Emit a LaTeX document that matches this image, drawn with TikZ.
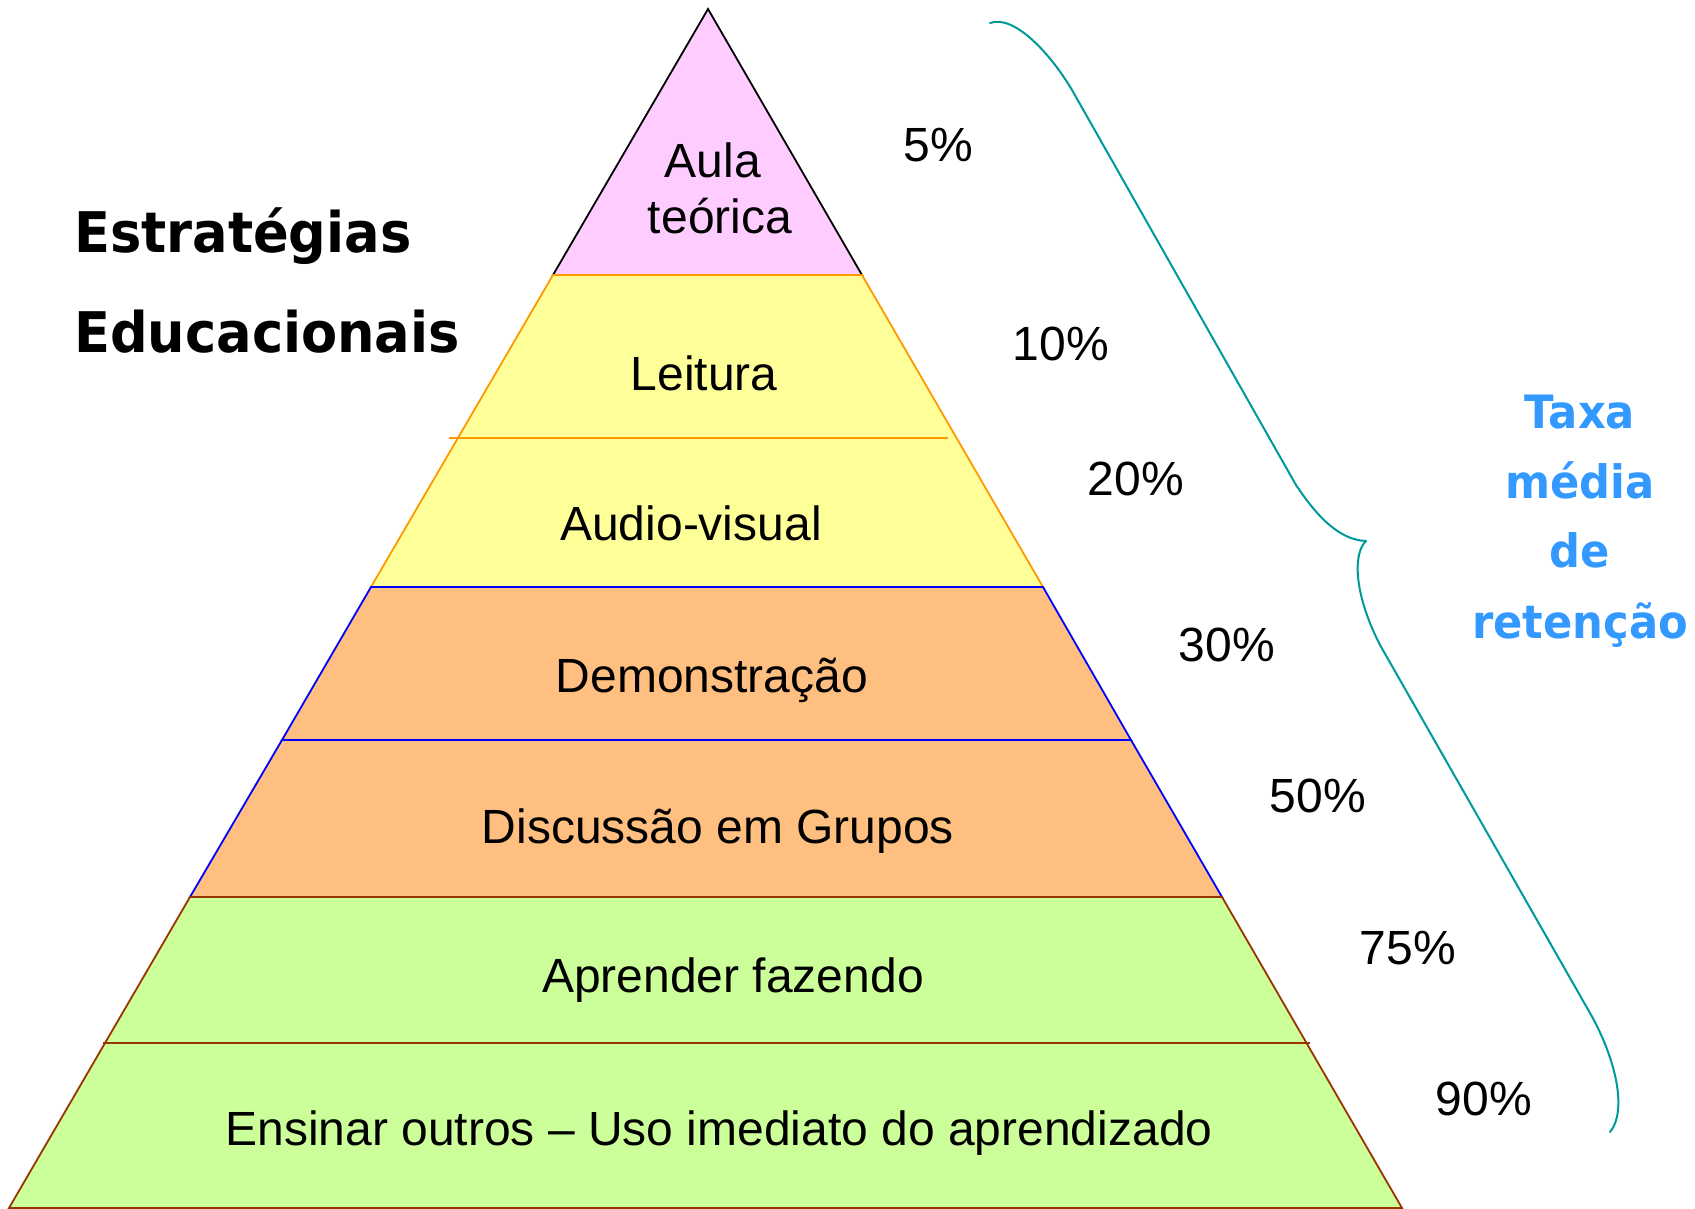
\documentclass[tikz,border=0pt]{standalone}
\usepackage{fontspec}
\setmainfont{Liberation Sans}
\newfontfamily\titlefont{DejaVu Sans}
\definecolor{pinkfill}{HTML}{FFCCFF}
\definecolor{yelfill}{HTML}{FFFF99}
\definecolor{orfill}{HTML}{FFBF80}
\definecolor{grnfill}{HTML}{CCFF99}
\definecolor{orline}{HTML}{FF9900}
\definecolor{brline}{HTML}{993300}
\definecolor{bluline}{HTML}{0000FF}
\definecolor{tealline}{HTML}{009999}
\definecolor{bluetext}{HTML}{3399FF}
\newcommand{\narrowtxt}[1]{\scalebox{0.94}[1]{#1}}
\begin{document}
\begin{tikzpicture}[x=1pt,y=-1pt,
  lbl/.style={font=\fontsize{48}{56}\selectfont, anchor=base, inner sep=0pt},
  pct/.style={font=\fontsize{48}{56}\selectfont, anchor=base, inner sep=0pt},
  ttl/.style={font=\titlefont\bfseries\fontsize{56}{62}\selectfont, anchor=base west, inner sep=0pt},
  blu/.style={font=\titlefont\bfseries\fontsize{46}{52}\selectfont, anchor=base, inner sep=0pt, text=bluetext},
  edge/.style={line width=1.8pt, line join=miter}]
\useasboundingbox (0,0) rectangle (1695,1208);
% pyramid corners
\coordinate (apex) at (708,9);
\coordinate (l1) at (553,275);  \coordinate (r1) at (862,275);
\coordinate (l3) at (371,587);  \coordinate (r3) at (1043,587);
\coordinate (l4) at (282,740);  \coordinate (r4) at (1131,740);
\coordinate (l5) at (190,897);  \coordinate (r5) at (1222,897);
\coordinate (l7) at (9,1208);   \coordinate (r7) at (1402,1208);
\coordinate (ya) at (449,438);  \coordinate (yb) at (948,438);
\coordinate (ga) at (103,1043); \coordinate (gb) at (1310,1043);
% layers
\filldraw[fill=pinkfill, draw=black, edge] (apex) -- (r1) -- (l1) -- cycle;
\filldraw[fill=yelfill, draw=orline, edge] (l1) -- (r1) -- (r3) -- (l3) -- cycle;
\draw[orline, edge] (ya) -- (yb);
\filldraw[fill=orfill, draw=bluline, edge] (l3) -- (r3) -- (r4) -- (l4) -- cycle;
\filldraw[fill=orfill, draw=bluline, edge] (l4) -- (r4) -- (r5) -- (l5) -- cycle;
\filldraw[fill=grnfill, draw=brline, edge] (l5) -- (r5) -- (r7) -- (l7) -- cycle;
\draw[brline, edge] (ga) -- (gb);
% labels
\node[lbl] (aula) at (713,177) {Aula};
\node[lbl] (teorica) at (720,233) {teórica};
\node[lbl] (leitura) at (704,390) {Leitura};
\node[lbl] (audio) at (691,540) {Audio-visual};
\node[lbl] (demo) at (712,692) {Demonstração};
\node[lbl] (disc) at (718,843) {Discussão em Grupos};
\node[lbl] (apre) at (733,992) {Aprender fazendo};
\node[lbl] (ensi) at (719,1145) {Ensinar outros – Uso imediato do aprendizado};
% percentages
\node[pct] (p5) at (938,161) {5\%};
\node[pct] (p10) at (1061,360) {10\%};
\node[pct] (p20) at (1136,495) {20\%};
\node[pct] (p30) at (1227,661) {30\%};
\node[pct] (p50) at (1318,812) {50\%};
\node[pct] (p75) at (1408,964) {75\%};
\node[pct] (p90) at (1484,1115) {90\%};
% title
\node[ttl] (t1) at (74,252) {\narrowtxt{Estratégias}};
\node[ttl] (t2) at (74,352) {\narrowtxt{Educacionais}};
% blue text
\node[blu] (b1) at (1580,428) {\narrowtxt{Taxa}};
\node[blu] (b2) at (1580,498) {\narrowtxt{média}};
\node[blu] (b3) at (1580,567) {\narrowtxt{de}};
\node[blu] (b4) at (1580,638) {\narrowtxt{retenção}};
% brace
\draw[tealline, line width=2pt, line cap=round]
  (990,23) .. controls (1015,14) and (1052,56) .. (1072,90)
  -- (1296,485) .. controls (1318,518) and (1340,540) .. (1366,541);
\draw[tealline, line width=2pt, line cap=round]
  (1366,541) .. controls (1354,552) and (1352,590) .. (1380,645)
  -- (1590,1013) .. controls (1615,1057) and (1628,1110) .. (1610,1132);
\end{tikzpicture}
\end{document}
